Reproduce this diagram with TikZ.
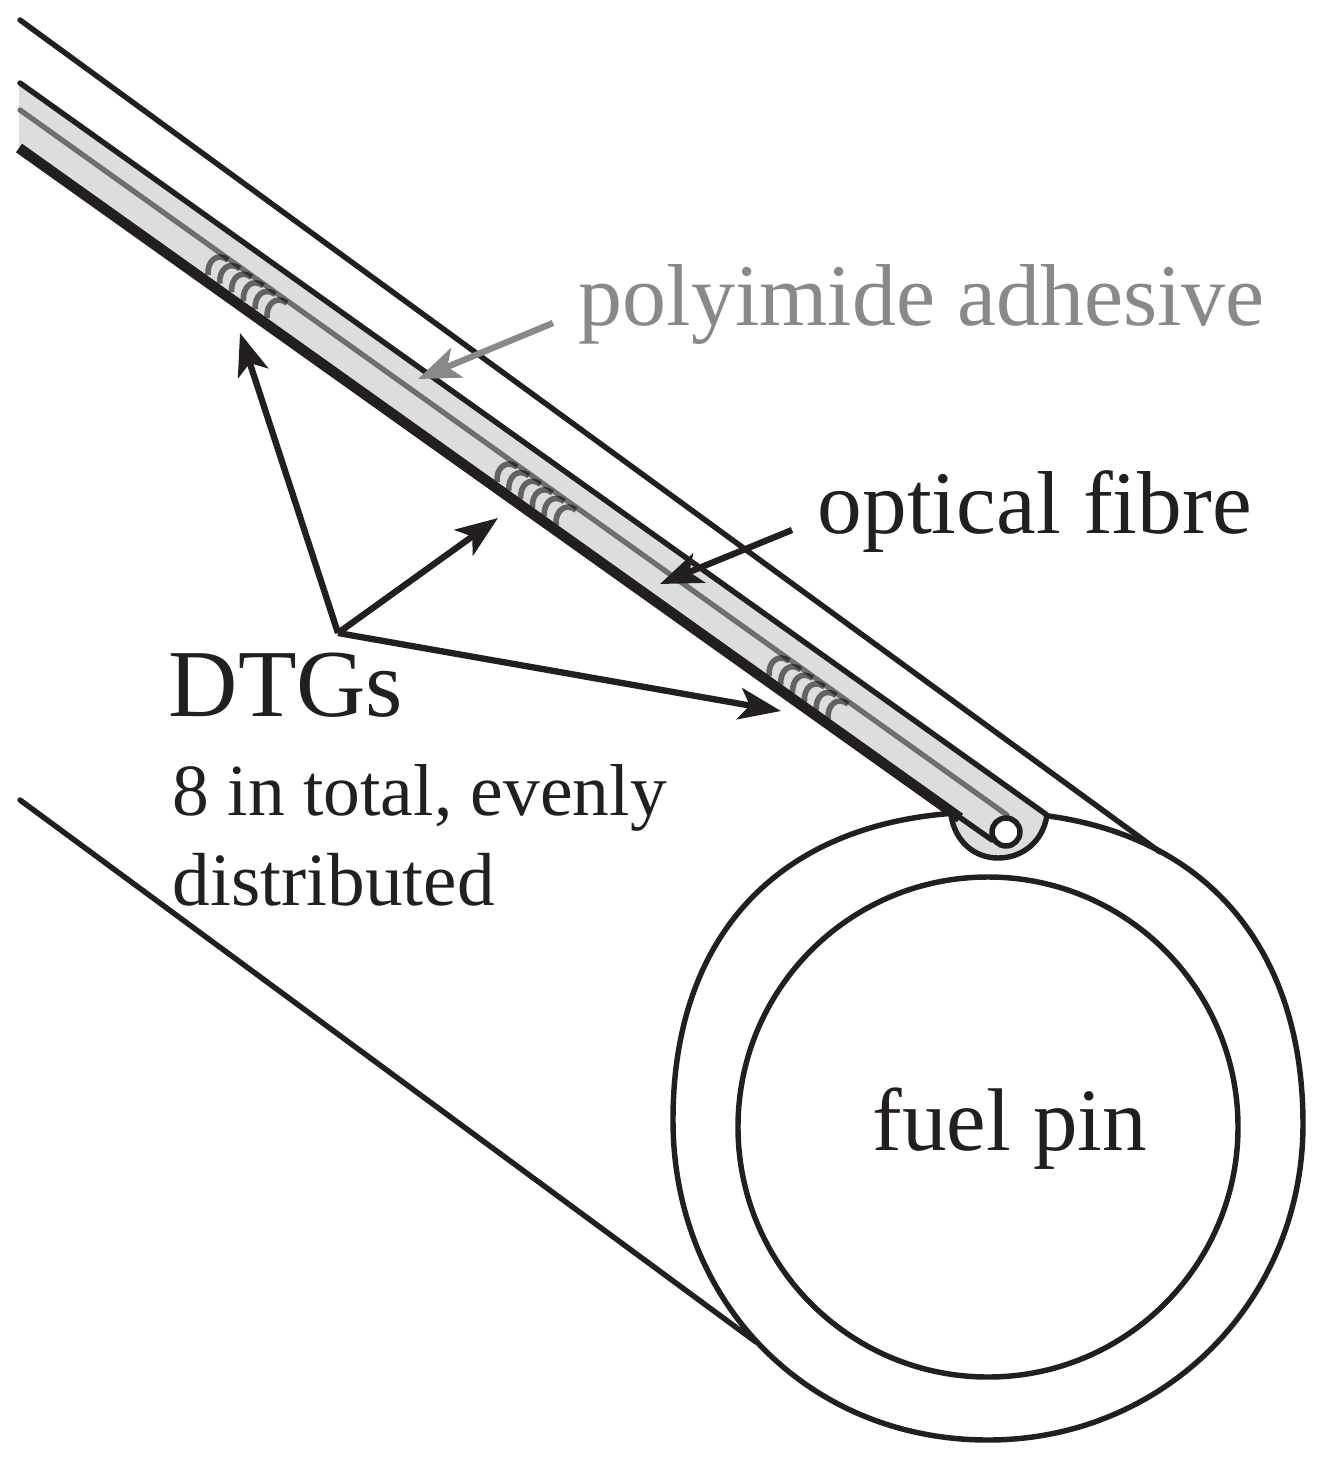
\documentclass[tikz,border=0pt]{standalone}
\usepackage{fontspec}
\setmainfont{Liberation Serif}
\usetikzlibrary{arrows.meta}
\definecolor{inkdark}{HTML}{231F20}
\definecolor{bandgrey}{HTML}{DCDDDE}
\definecolor{coregrey}{HTML}{6D6E70}
\definecolor{notegrey}{HTML}{87898B}
\tikzset{
  wire/.style={draw=inkdark,line width=1.55pt,line cap=round,line join=round},
  pointer/.style={draw=inkdark,line width=1.8pt,-{Stealth[length=12pt,width=9pt,inset=3pt]}},
  biglabel/.style={anchor=base west,inner sep=0pt,text=inkdark,font=\fontsize{25pt}{30pt}\selectfont},
  smalllabel/.style={anchor=base west,inner sep=0pt,text=inkdark,font=\fontsize{21pt}{26pt}\selectfont},
  gratingarc/.style={draw=black,opacity=.55,line width=1.6pt}
}
\begin{document}
\begin{tikzpicture}[x=0.01cm,y=-0.01cm]
  \useasboundingbox (0,0) rectangle (1318,1457);
  \draw[wire] (20,20) -- (1160,852);
  \draw[wire] (20,800) -- (756,1342);
  \draw[wire] (673,1120) .. controls (673,926) and (790,812) .. (988,812)
    .. controls (1185,812) and (1303,930) .. (1303,1124)
    .. controls (1303,1301) and (1164,1440) .. (988,1440)
    .. controls (808,1440) and (673,1302) .. (673,1120) -- cycle;
  \draw[wire] (988,1127) circle (250);
  \fill[bandgrey] (19,82) -- (1047,815)
    .. controls (1043,842) and (1022,858) .. (998,858)
    .. controls (975,858) and (955,842) .. (951,812)
    -- (19,148) -- cycle;
  \draw[wire] (20,83) -- (1047,815)
    .. controls (1043,842) and (1022,858) .. (998,858)
    .. controls (975,858) and (955,842) .. (951,815);
  \draw[draw=coregrey,line width=1.5pt,line cap=round] (20,110) -- (1007,815);
  \foreach \cx/\cy in {208/275,497/482,769/676}
    \foreach \i in {0,...,5}
      \draw[gratingarc,shift={(\cx+11.8*\i,\cy+8.6*\i)}]
        (0,0) .. controls (-1,-14) and (9,-23) .. (20,-15);
  \draw[wire,line width=3pt,line cap=butt] (19,148) -- (960,818);
  \draw[wire] (955,814) -- (992,840);
  \draw[wire,fill=white] (1006,832) circle (14);

  \node[biglabel,text=notegrey] (polyimide) at (578,325) {polyimide adhesive};
  \node[biglabel,font=\fontsize{25.4pt}{30pt}\selectfont] (fibre) at (817,533) {optical fibre};
  \node[biglabel,font=\fontsize{27.3pt}{32pt}\selectfont] (dtgs) at (168,716) {DTGs};
  \node[smalllabel,font=\fontsize{20.9pt}{26pt}\selectfont] (total) at (172,815) {8 in total, evenly};
  \node[smalllabel,font=\fontsize{21.4pt}{26pt}\selectfont] (spread) at (172,905) {distributed};
  \node[biglabel,font=\fontsize{25.3pt}{30pt}\selectfont] (pin) at (872,1150) {fuel pin};

  \coordinate (adhesivefrom) at (553,323);
  \coordinate (adhesiveto) at (418,379);
  \coordinate (fibrefrom) at (792,530);
  \coordinate (fibreto) at (660,584);
  \coordinate (dtgroot) at (338,633);
  \coordinate (dtga) at (240,333);
  \coordinate (dtgb) at (498,518);
  \coordinate (dtgc) at (781,711);
  \draw[pointer,draw=notegrey,color=notegrey] (adhesivefrom) -- (adhesiveto);
  \draw[pointer] (fibrefrom) -- (fibreto);
  \draw[pointer] (dtgroot) -- (dtga);
  \draw[pointer] (dtgroot) -- (dtgb);
  \draw[pointer] (dtgroot) -- (dtgc);
\end{tikzpicture}
\end{document}
